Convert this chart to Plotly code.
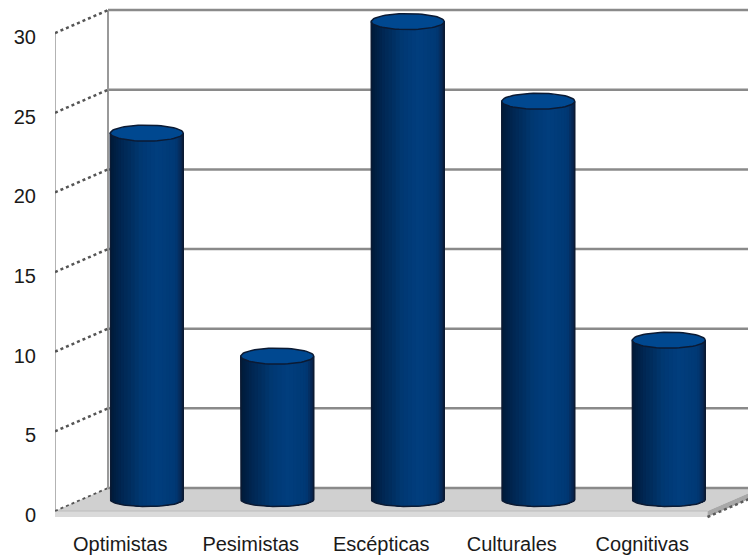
import numpy as np
import plotly.graph_objects as go

# ---------------- data ----------------
categories = ["Optimistas", "Pesimistas", "Escépticas", "Culturales", "Cognitivas"]
values = [23, 9, 30, 25, 10]
y_ticks = [0, 5, 10, 15, 20, 25, 30]

# ---------------- layout constants ----------------
W, H = 748, 558
ML, MR, MT, MB = 55, 0, 0, 38
PX_X = 130.5          # pixels per category unit
PX_Y = 15.93          # pixels per value unit
x0 = -0.5
x_range = [x0, x0 + (W - ML - MR) / PX_X]
y_lo = -9 / PX_Y
y_range = [y_lo, y_lo + (H - MT - MB) / PX_Y]
DX = 53 / PX_X        # depth offset (x) front -> back wall
DY = 23 / PX_Y        # depth offset (y)
T = 6 / PX_Y          # floor thickness
nx = len(categories)
ymax = max(y_ticks)

shapes = []

# floor top surface
fx = [x0, x0 + nx, x0 + nx + DX, x0 + DX]
fy = [0, 0, DY, DY]
shapes.append(dict(type="path", xref="x", yref="y", layer="below",
                   path="M " + " L ".join(f"{a},{b}" for a, b in zip(fx, fy)) + " Z",
                   fillcolor="#d0d0d0", line=dict(width=0)))
# floor front thickness
shapes.append(dict(type="path", xref="x", yref="y", layer="below",
                   path=f"M {x0},0 L {x0+nx},0 L {x0+nx},{-T} L {x0},{-T} Z",
                   fillcolor="#dadada", line=dict(width=0)))
shapes.append(dict(type="line", xref="x", yref="y", layer="below",
                   x0=x0, x1=x0 + nx, y0=0, y1=0, line=dict(color="#bcbcbc", width=1)))
# floor right thickness
shapes.append(dict(type="path", xref="x", yref="y", layer="below",
                   path=f"M {x0+nx},0 L {x0+nx+DX},{DY} L {x0+nx+DX},{DY-T} L {x0+nx},{-T} Z",
                   fillcolor="#a8a8a8", line=dict(width=0)))
shapes.append(dict(type="line", xref="x", yref="y", layer="below",
                   x0=x0 + nx, x1=x0 + nx + DX, y0=-T, y1=DY - T,
                   line=dict(color="#5a5a5a", width=2.5, dash="dot")))

# back wall gridlines
for t in y_ticks:
    shapes.append(dict(type="line", xref="x", yref="y", layer="below",
                       x0=x0 + DX, x1=x_range[1], y0=t + DY, y1=t + DY,
                       line=dict(color="#8a8a8a", width=2.5)))
# back wall left edge
shapes.append(dict(type="line", xref="x", yref="y", layer="below",
                   x0=x0 + DX, x1=x0 + DX, y0=DY, y1=ymax + DY,
                   line=dict(color="#999999", width=2)))
# front axis line
shapes.append(dict(type="line", xref="x", yref="y", layer="below",
                   x0=x0, x1=x0, y0=0, y1=ymax,
                   line=dict(color="#9a9a9a", width=1.5)))
# side wall diagonals
for t in y_ticks:
    shapes.append(dict(type="line", xref="x", yref="y", layer="below",
                       x0=x0, x1=x0 + DX, y0=t, y1=t + DY,
                       line=dict(color="#555555", width=2.5 if t else 1.8,
                                 dash="dot")))

# ---------------- cylinders ----------------
a = 36.5 / PX_X
b_top = 8 / PX_Y
b_bot = 7 / PX_Y
N = 28
stops = [(0.0, (12, 30, 60)), (0.04, (6, 42, 88)), (0.1, (0, 56, 116)),
         (0.35, (1, 62, 126)), (0.58, (0, 56, 114)), (0.68, (0, 49, 100)),
         (0.84, (0, 39, 82)), (1.0, (0, 26, 56))]


def ramp(u):
    for (u0, c0), (u1, c1) in zip(stops[:-1], stops[1:]):
        if u <= u1:
            f = (u - u0) / (u1 - u0) if u1 > u0 else 0
            return "rgb(%d,%d,%d)" % tuple(round(c0[k] + f * (c1[k] - c0[k])) for k in range(3))
    return "rgb(%d,%d,%d)" % stops[-1][1]


thetas = np.linspace(np.pi, 0, N + 1)
traces = []
for k in range(N):
    th0 = thetas[k]
    thm = (thetas[k] + thetas[k + 1]) / 2
    u = 0.5 * (1 - np.cos(thm))
    xs, ys = [], []
    for i, v in enumerate(values):
        cx = i + DX / 2
        yb = DY / 2
        yt = v + DY / 2
        # each strip covers from its left edge to the right side (painter's order, no seams)
        thh = np.linspace(th0, 0, 24)
        px = list(cx + a * np.cos(thh))
        py = list(yb - b_bot * np.sin(thh))
        xs += px + px[::-1] + [None]
        ys += py + [yt] * len(px) + [None]
    traces.append(go.Scatter(x=xs, y=ys, mode="lines", fill="toself",
                             fillcolor=ramp(u), line=dict(width=0, color=ramp(u)),
                             hoverinfo="skip", showlegend=False))

# outlines of body
ox, oy = [], []
for i, v in enumerate(values):
    cx = i + DX / 2
    yb = DY / 2
    yt = v + DY / 2
    th = np.linspace(np.pi, 0, 40)
    ox += [cx - a] + list(cx + a * np.cos(th)) + [cx + a] + [None]
    oy += [yt] + list(yb - b_bot * np.sin(th)) + [yt] + [None]
traces.append(go.Scatter(x=ox, y=oy, mode="lines", line=dict(color="#0b1a33", width=1.5),
                         hoverinfo="skip", showlegend=False))

# top caps
cxs, cys = [], []
for i, v in enumerate(values):
    cx = i + DX / 2
    yt = v + DY / 2
    th = np.linspace(0, 2 * np.pi, 60)
    cxs += list(cx + a * np.cos(th)) + [None]
    cys += list(yt + b_top * np.sin(th)) + [None]
traces.append(go.Scatter(x=cxs, y=cys, mode="lines", fill="toself",
                         fillcolor="rgb(0,72,144)", line=dict(color="#0b1a33", width=1.5),
                         hoverinfo="skip", showlegend=False))

fig = go.Figure(traces)
font = dict(family="Liberation Sans, Arial, sans-serif", size=20, color="#1a1a1a")
fig.update_layout(
    width=W, height=H,
    margin=dict(l=ML, r=MR, t=MT, b=MB),
    paper_bgcolor="white", plot_bgcolor="white",
    shapes=shapes, showlegend=False,
    xaxis=dict(range=x_range, tickvals=list(range(nx)), ticktext=categories,
               showgrid=False, zeroline=False, showline=False, ticks="",
               ticklabelstandoff=10, tickfont=font, fixedrange=True),
    yaxis=dict(range=y_range, tickvals=y_ticks, ticktext=[str(t) for t in y_ticks],
               showgrid=False, zeroline=False, showline=False, ticks="",
               ticklabelstandoff=18, ticklabelshift=4, tickfont=font, fixedrange=True),
)
fig.write_html("out.html")
